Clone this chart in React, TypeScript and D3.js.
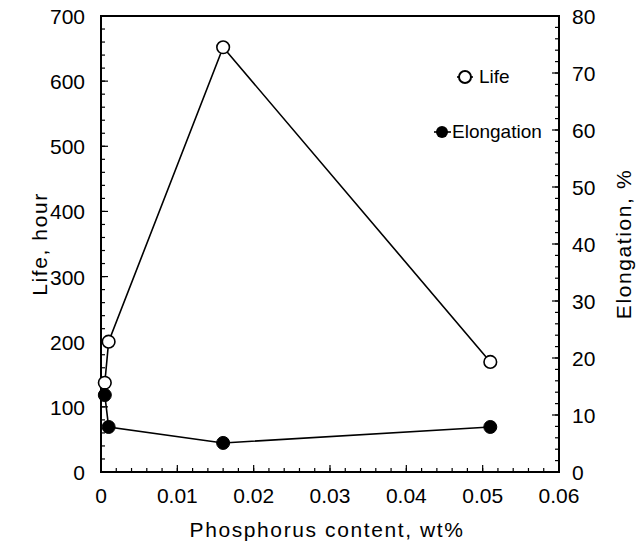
import React from 'react';
import * as d3 from 'd3';

// data
const phosphorus = [0.0005, 0.001, 0.016, 0.051];
const life = [137, 200, 652, 169];
const elongation = [13.5, 7.9, 5.1, 7.9];

const xTicks = [0, 0.01, 0.02, 0.03, 0.04, 0.05, 0.06];
const lifeTicks = [0, 100, 200, 300, 400, 500, 600, 700];
const elongTicks = [0, 10, 20, 30, 40, 50, 60, 70, 80];

const W = 636;
const H = 550;
const margin = { top: 16, right: 77, bottom: 78, left: 101 };
const font = 'Liberation Sans, Arial, Helvetica, sans-serif';

const App = () => {
  const x = d3.scaleLinear().domain([0, 0.06]).range([margin.left, W - margin.right]);
  const yL = d3.scaleLinear().domain([0, 700]).range([H - margin.bottom, margin.top]);
  const yR = d3.scaleLinear().domain([0, 80]).range([H - margin.bottom, margin.top]);

  const lifePts = phosphorus.map((p, i) => [x(p), yL(life[i])] as [number, number]);
  const elongPts = phosphorus.map((p, i) => [x(p), yR(elongation[i])] as [number, number]);
  const line = d3.line();

  const x0 = x.range()[0], x1 = x.range()[1];
  const yb = yL.range()[0], yt = yL.range()[1];

  const xMinor = d3.range(0, 0.0601, 0.002);
  const lMinor = d3.range(0, 701, 20);
  const rMinor = d3.range(0, 80.1, 2);

  return (
    <svg width={W} height={H} style={{ position: 'absolute', left: 0, top: 0, background: '#fff' }}>
      <g stroke="#000" strokeWidth={1.2}>
        {xMinor.map((t, i) => (
          <line key={'xm' + i} x1={x(t)} x2={x(t)} y1={yb} y2={yb - 4} />
        ))}
        {xTicks.map((t, i) => (
          <line key={'xM' + i} x1={x(t)} x2={x(t)} y1={yb} y2={yb - 7} />
        ))}
        {lMinor.map((t, i) => (
          <line key={'lm' + i} x1={x0} x2={x0 + 4} y1={yL(t)} y2={yL(t)} />
        ))}
        {lifeTicks.map((t, i) => (
          <line key={'lM' + i} x1={x0} x2={x0 + 7} y1={yL(t)} y2={yL(t)} />
        ))}
        {rMinor.map((t, i) => (
          <line key={'rm' + i} x1={x1} x2={x1 - 4} y1={yR(t)} y2={yR(t)} />
        ))}
        {elongTicks.map((t, i) => (
          <line key={'rM' + i} x1={x1} x2={x1 - 7} y1={yR(t)} y2={yR(t)} />
        ))}
      </g>
      <rect x={x0} y={yt} width={x1 - x0} height={yb - yt} fill="none" stroke="#000" strokeWidth={2} />

      <g fontFamily={font} fontSize={21} fill="#000">
        {xTicks.map((t, i) => (
          <text key={'xl' + i} x={x(t)} y={yb + 31} textAnchor="middle">{t === 0 ? '0' : t.toFixed(2)}</text>
        ))}
        {lifeTicks.map((t, i) => (
          <text key={'ll' + i} x={x0 - 16} y={yL(t) + 8} textAnchor="end">{t}</text>
        ))}
        {elongTicks.map((t, i) => (
          <text key={'rl' + i} x={x1 + 13} y={yR(t) + 8} textAnchor="start">{t}</text>
        ))}
        <g letterSpacing={1.6}>
          <text x={(x0 + x1) / 2 - 3} y={H - 13} textAnchor="middle">Phosphorus content, wt%</text>
          <text transform={`translate(47,${(yb + yt) / 2}) rotate(-90)`} textAnchor="middle">Life, hour</text>
          <text transform={`translate(631,${(yb + yt) / 2}) rotate(-90)`} textAnchor="middle">Elongation, %</text>
        </g>
      </g>

      <path d={line(lifePts) || ''} fill="none" stroke="#000" strokeWidth={1.6} />
      <path d={line(elongPts) || ''} fill="none" stroke="#000" strokeWidth={1.6} />
      {lifePts.map((p, i) => (
        <circle key={'lc' + i} cx={p[0]} cy={p[1]} r={6.3} fill="#fff" stroke="#000" strokeWidth={1.6} />
      ))}
      {elongPts.map((p, i) => (
        <circle key={'ec' + i} cx={p[0]} cy={p[1]} r={6.5} fill="#000" stroke="#000" strokeWidth={1} />
      ))}

      {/* legend */}
      <g fontFamily={font} fontSize={19} fill="#000">
        <line x1={457} x2={473} y1={77} y2={77} stroke="#000" strokeWidth={1.6} />
        <circle cx={465} cy={77} r={6} fill="#fff" stroke="#000" strokeWidth={2} />
        <text x={479} y={83}>Life</text>
        <line x1={434} x2={451} y1={132} y2={132} stroke="#000" strokeWidth={1.6} />
        <circle cx={442} cy={132} r={6} fill="#000" />
        <text x={452} y={138}>Elongation</text>
      </g>
    </svg>
  );
};

export default App;
